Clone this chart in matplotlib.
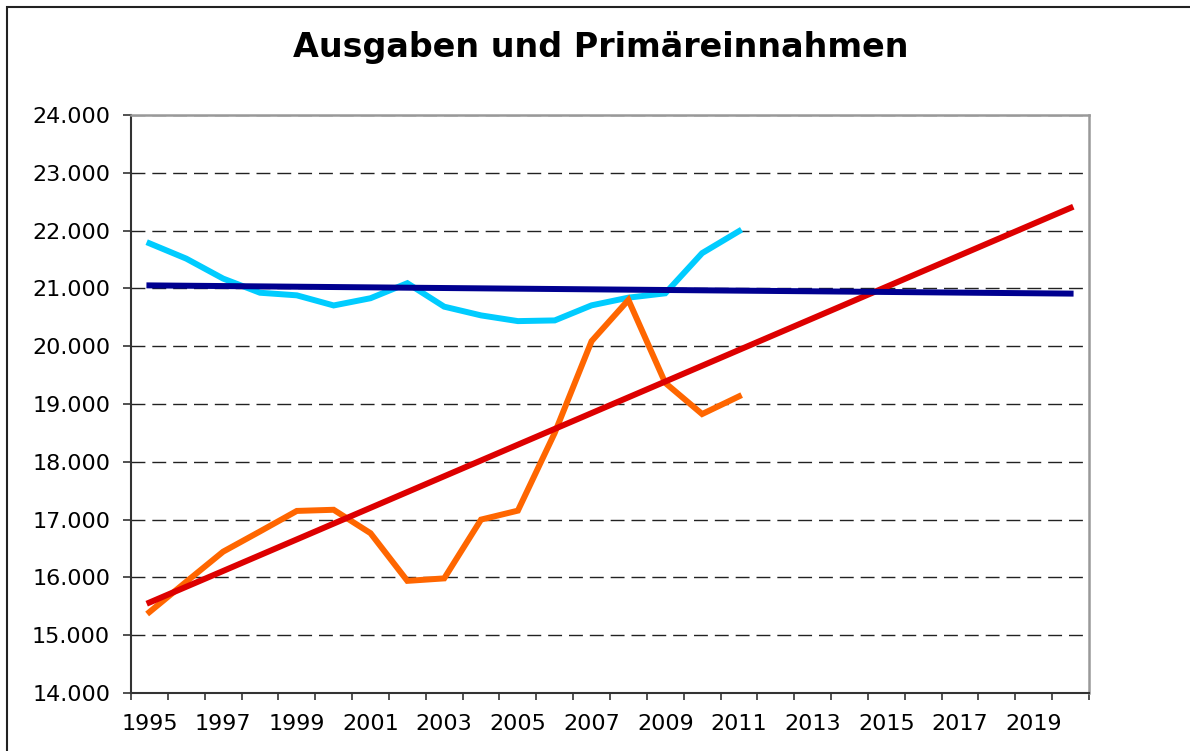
import matplotlib.pyplot as plt
import matplotlib.patches as patches
from matplotlib.ticker import FuncFormatter

# data
years = list(range(1995, 2021))
ausgaben = [21780, 21515, 21170, 20925, 20880, 20705, 20830, 21090, 20684,
            20533, 20434, 20446, 20707, 20840, 20915, 21610, 21990]
einnahmen = [15400, 15925, 16445, 16795, 17150, 17170, 16765, 15940, 15983,
             17000, 17155, 18500, 20087, 20800, 19365, 18826, 19132]
trend_einnahmen = [15565, 22393]   # values at 1995 and 2020
trend_ausgaben = [21052, 20910]    # values at 1995 and 2020
y_ticks = list(range(14000, 25000, 1000))
title = "Ausgaben und Primäreinnahmen"


def _fmt_thousands(v, pos):
    ''' Formats a number with a dot as thousands separator'''
    return f"{int(v):,}".replace(",", ".")


fig = plt.figure(figsize=(11.9, 7.51), dpi=100)
ax = fig.add_axes([131 / 1190, 1 - 693 / 751, (1089 - 131) / 1190, (693 - 115) / 751])

xs = list(range(len(years)))
ax.plot(xs[:len(ausgaben)], ausgaben, color="#00CCFF", lw=4.3, solid_joinstyle="miter", zorder=3)
ax.plot(xs[:len(einnahmen)], einnahmen, color="#FF6600", lw=4.3, solid_joinstyle="miter", zorder=3)
ax.plot([xs[0], xs[-1]], trend_einnahmen, color="#DD0000", lw=4.3, zorder=4)
ax.plot([xs[0], xs[-1]], trend_ausgaben, color="#000090", lw=4.3, zorder=4)

ax.set_xlim(-0.5, len(years) - 0.5)
ax.set_ylim(14000, 24000)
ax.set_yticks(y_ticks)
ax.yaxis.set_major_formatter(FuncFormatter(_fmt_thousands))
ax.yaxis.grid(True, color="#222222", lw=1.0, linestyle=(0, (10, 5)))
ax.set_axisbelow(True)

ax.set_xticks([i - 0.5 for i in range(len(years) + 1)])
ax.set_xticklabels([])
ax.set_xticks(xs[::2], minor=True)
ax.set_xticklabels([str(y) for y in years[::2]], minor=True)
ax.tick_params(axis="x", which="major", length=5, width=1.2, color="#333333")
ax.tick_params(axis="x", which="minor", length=0, pad=15, labelsize=16)
ax.tick_params(axis="y", length=6, width=1.2, color="#333333", pad=9, labelsize=16)

for side in ("left", "bottom"):
    ax.spines[side].set_color("#333333")
    ax.spines[side].set_linewidth(1.5)
for side in ("top", "right"):
    ax.spines[side].set_color("#999999")
    ax.spines[side].set_linewidth(1.8)

fig.text(601 / 1190, 1 - 57 / 751, title, ha="center", va="baseline",
         fontsize=24, fontweight="bold")

fig.patches.append(patches.Rectangle((7 / 1190, -0.1), 1.2, 1.1 - 7 / 751,
                                     transform=fig.transFigure, fill=False,
                                     edgecolor="#222222", lw=1.5))

fig.savefig("out.png", dpi=100)
